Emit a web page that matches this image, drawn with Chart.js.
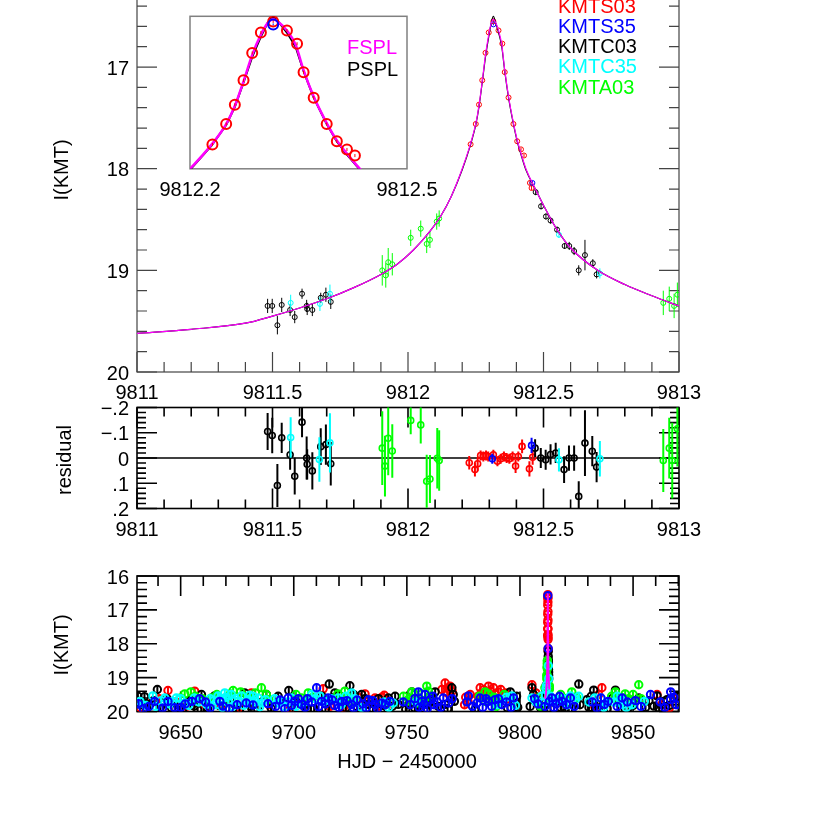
<!DOCTYPE html>
<html><head><meta charset="utf-8">
<script src="https://cdn.jsdelivr.net/npm/chart.js@4.4.0/dist/chart.umd.min.js"></script>
<style>
html,body{margin:0;padding:0;background:#fff;}
body{width:830px;height:814px;overflow:hidden;position:relative;}
canvas{position:absolute;left:0;}
</style></head><body>
<canvas id="cMain" width="830" height="470" style="top:-60px"></canvas>
<canvas id="cInset" width="830" height="210" style="top:0px"></canvas>
<canvas id="cRes" width="830" height="170" style="top:380px"></canvas>
<canvas id="cAll" width="830" height="254" style="top:560px"></canvas>
<script>
// ---------------- DATA ----------------
// model curves
const fsplT = [9811.00,9811.20,9811.40,9811.50,9811.60,9811.70,9811.80,9811.90,9811.96,9812.02,9812.08,9812.12,9812.16,9812.20,9812.23,9812.25,9812.262,9812.274,9812.286,9812.298,9812.307,9812.315,9812.323,9812.334,9812.346,9812.357,9812.371,9812.389,9812.403,9812.417,9812.435,9812.47,9812.50,9812.55,9812.60,9812.70,9812.80,9812.90,9813.00];
const fsplMag = [19.62,19.58,19.52,19.45,19.37,19.28,19.17,19.04,18.94,18.80,18.62,18.47,18.27,18.00,17.76,17.56,17.38,17.14,16.88,16.68,16.57,16.53,16.56,16.64,16.78,17.03,17.29,17.55,17.72,17.85,18.00,18.20,18.36,18.60,18.78,19.00,19.14,19.25,19.35];
const psplT = fsplT;
const psplMag = [19.62,19.58,19.52,19.45,19.37,19.28,19.17,19.04,18.94,18.80,18.62,18.47,18.27,18.01,17.77,17.57,17.39,17.15,16.90,16.70,16.57,16.50,16.56,16.66,16.80,17.04,17.30,17.56,17.73,17.86,18.01,18.20,18.36,18.60,18.78,19.00,19.14,19.25,19.35];

// light-curve points near the peak [HJD', mag, err]
const kmts03 = [[9812.231,17.76,0.015],[9812.250,17.56,0.015],[9812.262,17.37,0.015],[9812.274,17.13,0.015],[9812.286,16.86,0.015],[9812.298,16.66,0.015],[9812.315,16.55,0.015],[9812.334,16.64,0.015],[9812.348,16.77,0.015],[9812.357,17.05,0.015],[9812.371,17.30,0.015],[9812.389,17.56,0.015],[9812.403,17.73,0.015],[9812.417,17.81,0.015],[9812.428,17.87,0.015],[9812.450,18.14,0.02],[9812.456,18.19,0.02]];
const kmts35 = [[9812.315,16.58,0.01],[9812.459,18.14,0.02]];
const kmtc03 = [[9811.482,19.35,0.07],[9811.499,19.35,0.07],[9811.518,19.54,0.09],[9811.534,19.34,0.07],[9811.565,19.39,0.06],[9811.582,19.46,0.06],[9811.609,19.23,0.05],[9811.626,19.35,0.06],[9811.628,19.38,0.06],[9811.647,19.39,0.06],[9811.678,19.27,0.05],[9811.697,19.24,0.07],[9811.715,19.31,0.07],[9812.471,18.23,0.03],[9812.491,18.37,0.03],[9812.509,18.47,0.03],[9812.526,18.51,0.03],[9812.550,18.60,0.03],[9812.578,18.76,0.03],[9812.595,18.76,0.04],[9812.613,18.81,0.04],[9812.630,19.00,0.05],[9812.653,18.85,0.15],[9812.682,18.93,0.04],[9812.696,19.04,0.04]];
const kmtc35 = [[9811.567,19.32,0.08],[9811.675,19.33,0.07],[9811.712,19.23,0.09],[9812.557,18.65,0.03],[9812.708,19.03,0.05]];
const kmta03 = [[9811.905,19.00,0.15],[9811.918,19.05,0.12],[9811.927,18.92,0.14],[9811.942,18.94,0.11],[9812.010,18.68,0.08],[9812.047,18.59,0.08],[9812.069,18.74,0.09],[9812.081,18.70,0.08],[9812.106,18.52,0.08],[9812.115,18.49,0.08],[9812.942,19.32,0.12],[9812.964,19.28,0.12],[9812.982,19.35,0.12],[9812.994,19.24,0.12]];

// residuals [HJD', residual, err]
const resS03 = [[9812.226,0.019,0.027],[9812.247,0.046,0.027],[9812.257,0.023,0.027],[9812.268,-0.010,0.02],[9812.278,-0.006,0.02],[9812.288,-0.010,0.02],[9812.296,-0.006,0.02],[9812.315,-0.013,0.02],[9812.330,0.013,0.02],[9812.342,0.003,0.02],[9812.354,-0.006,0.02],[9812.364,0.000,0.02],[9812.374,0.003,0.02],[9812.386,-0.006,0.02],[9812.397,0.032,0.027],[9812.407,-0.006,0.02],[9812.421,-0.046,0.027],[9812.448,0.043,0.03],[9812.460,-0.003,0.03]];
const resS35 = [[9812.311,0.003,0.02],[9812.456,-0.050,0.03]];
const resC03 = [[9811.482,-0.105,0.073],[9811.499,-0.089,0.07],[9811.518,0.109,0.085],[9811.534,-0.080,0.06],[9811.565,-0.013,0.06],[9811.582,0.072,0.073],[9811.609,-0.142,0.06],[9811.626,0.000,0.085],[9811.628,0.025,0.06],[9811.647,0.051,0.074],[9811.678,-0.045,0.073],[9811.697,-0.053,0.08],[9811.715,0.023,0.086],[9812.469,-0.039,0.035],[9812.490,0.000,0.04],[9812.508,0.007,0.04],[9812.526,-0.014,0.04],[9812.545,-0.020,0.04],[9812.576,0.046,0.053],[9812.594,0.000,0.05],[9812.613,0.000,0.05],[9812.630,0.152,0.06],[9812.653,-0.059,0.13],[9812.680,-0.027,0.06],[9812.696,0.036,0.06]];
const resC35 = [[9811.567,-0.081,0.08],[9811.673,0.006,0.088],[9811.712,-0.060,0.117],[9812.557,0.007,0.046],[9812.708,0.003,0.07]];
const resA03 = [[9811.905,-0.039,0.146],[9811.915,0.032,0.12],[9811.927,-0.078,0.146],[9811.942,-0.028,0.106],[9812.010,-0.149,0.055],[9812.047,-0.131,0.074],[9812.069,0.092,0.105],[9812.081,0.083,0.095],[9812.108,0.001,0.12],[9812.115,0.010,0.12],[9812.942,0.010,0.125],[9812.964,-0.039,0.12],[9812.975,0.010,0.15],[9812.994,-0.116,0.15]];

// full-season points [HJD', mag]
const cloudErr = 0.1;
const allS03 = [[9632.0,19.88],[9637.0,19.75],[9640.5,19.62],[9644.4,19.38],[9648.0,19.72],[9652.5,19.85],[9656.2,19.40],[9660.0,19.78],[9668.0,19.85],[9676.0,19.88],[9681.3,19.45],[9689.0,19.80],[9698.5,19.92],[9713.0,19.33],[9716.0,19.85],[9722.0,19.88],[9728.5,19.58],[9730.0,19.72],[9731.5,19.48],[9733.0,19.70],[9735.9,19.60],[9737.5,19.85],[9738.9,19.58],[9740.0,19.52],[9741.0,19.66],[9742.5,19.75],[9757.0,19.80],[9765.5,19.35],[9766.9,19.16],[9767.8,19.45],[9768.0,19.32],[9769.1,19.25],[9769.5,19.60],[9770.0,19.40],[9775.5,19.80],[9776.0,19.58],[9777.0,19.70],[9778.0,19.50],[9781.5,19.55],[9782.4,19.30],[9783.0,19.45],[9784.0,19.36],[9785.0,19.52],[9786.1,19.25],[9787.0,19.40],[9788.0,19.65],[9788.3,19.30],[9789.0,19.50],[9790.5,19.42],[9791.5,19.35],[9792.0,19.55],[9793.5,19.45],[9794.5,19.62],[9805.3,19.21],[9807.0,19.45],[9833.0,19.85],[9834.8,19.50],[9836.2,19.30],[9860.6,19.50],[9862.5,19.80],[9866.0,19.90],[9868.0,19.62]];
const allS35 = [[9631.4,19.77],[9633.5,19.92],[9636.0,19.85],[9638.5,19.70],[9642.0,19.90],[9644.4,19.70],[9647.3,19.89],[9650.0,19.88],[9652.0,19.78],[9655.0,19.70],[9658.4,19.62],[9661.0,19.72],[9663.0,19.90],[9667.3,19.70],[9668.7,19.84],[9671.5,19.92],[9675.0,19.80],[9679.0,19.75],[9682.0,19.81],[9688.6,19.77],[9692.0,19.85],[9694.0,19.66],[9696.0,19.92],[9697.5,19.60],[9699.0,19.82],[9700.5,19.70],[9702.0,19.62],[9703.4,19.79],[9705.0,19.88],[9706.0,19.62],[9708.0,19.72],[9710.1,19.30],[9711.0,19.86],[9712.3,19.70],[9714.0,19.78],[9715.2,19.60],[9717.0,19.66],[9718.0,19.82],[9720.0,19.88],[9721.2,19.70],[9723.5,19.68],[9725.6,19.79],[9726.5,19.90],[9728.0,19.66],[9730.5,19.78],[9732.0,19.90],[9733.0,19.65],[9735.0,19.68],[9736.0,19.80],[9737.0,19.92],[9738.9,19.75],[9740.5,19.80],[9742.5,19.70],[9748.4,19.72],[9751.5,19.80],[9753.5,19.62],[9755.1,19.42],[9755.5,19.88],[9756.6,19.70],[9757.5,19.80],[9758.1,19.50],[9759.0,19.92],[9760.3,19.65],[9761.5,19.55],[9762.0,19.80],[9763.5,19.72],[9765.0,19.88],[9766.1,19.60],[9768.5,19.75],[9770.0,19.62],[9776.5,19.72],[9777.2,19.54],[9779.0,19.85],[9781.0,19.75],[9782.4,19.60],[9783.5,19.88],[9785.0,19.62],[9786.1,19.70],[9787.5,19.85],[9789.0,19.65],[9790.5,19.62],[9792.0,19.80],[9794.0,19.72],[9796.0,19.88],[9797.2,19.60],[9806.5,19.62],[9808.0,19.78],[9811.0,19.85],[9813.0,19.70],[9814.1,19.60],[9815.0,19.88],[9816.0,19.78],[9817.5,19.55],[9818.6,19.70],[9820.5,19.80],[9822.3,19.60],[9824.0,19.85],[9832.0,19.72],[9834.0,19.90],[9835.8,19.60],[9837.3,19.79],[9839.0,19.70],[9843.0,19.85],[9845.2,19.60],[9847.5,19.72],[9851.0,19.68],[9853.5,19.85],[9857.7,19.50],[9862.0,19.72],[9864.0,19.88],[9866.6,19.42],[9866.6,19.65],[9868.0,19.58],[9869.0,19.80]];
const allC03 = [[9631.1,19.55],[9632.5,19.80],[9634.0,19.56],[9635.0,19.92],[9636.3,19.79],[9638.0,19.68],[9639.7,19.35],[9641.0,19.88],[9642.9,19.75],[9644.0,19.62],[9646.0,19.90],[9648.5,19.80],[9651.0,19.92],[9653.2,19.70],[9655.0,19.62],[9656.0,19.84],[9657.5,19.95],[9659.2,19.50],[9660.5,19.68],[9662.0,19.90],[9665.0,19.54],[9667.0,19.82],[9670.0,19.92],[9672.0,19.68],[9673.9,19.79],[9676.0,19.95],[9678.3,19.45],[9681.0,19.85],[9684.0,19.92],[9686.0,19.72],[9687.9,19.50],[9690.0,19.90],[9693.1,19.55],[9695.0,19.70],[9697.8,19.38],[9699.5,19.92],[9701.9,19.75],[9704.0,19.82],[9706.0,19.92],[9709.0,19.92],[9712.5,19.55],[9714.0,19.92],[9715.7,19.19],[9717.0,19.60],[9718.2,19.45],[9720.0,19.52],[9721.9,19.70],[9723.0,19.90],[9724.8,19.24],[9726.5,19.50],[9728.0,19.85],[9730.0,19.50],[9731.5,19.62],[9733.0,19.79],[9735.0,19.92],[9737.5,19.62],[9739.5,19.82],[9741.8,19.60],[9743.5,19.85],[9744.8,19.55],[9746.2,19.79],[9749.5,19.94],[9750.8,19.79],[9752.2,19.42],[9753.5,19.90],[9756.0,19.95],[9759.5,19.80],[9761.0,19.62],[9762.5,19.42],[9764.0,19.85],[9766.9,19.79],[9768.0,19.92],[9769.9,19.30],[9770.5,19.50],[9771.0,19.70],[9780.0,19.95],[9794.5,19.90],[9795.7,19.42],[9797.9,19.70],[9798.5,19.55],[9799.0,19.88],[9804.5,19.85],[9805.3,19.30],[9806.0,19.50],[9807.5,19.70],[9808.5,19.62],[9809.0,19.88],[9810.5,19.90],[9813.5,19.92],[9818.0,19.88],[9820.0,19.90],[9823.0,19.92],[9826.0,19.19],[9826.5,19.80],[9829.6,19.65],[9830.5,19.88],[9831.5,19.55],[9832.6,19.37],[9833.5,19.92],[9834.1,19.79],[9836.5,19.82],[9838.5,19.92],[9841.0,19.60],[9842.2,19.37],[9843.7,19.75],[9845.0,19.92],[9848.0,19.88],[9850.0,19.82],[9852.5,19.60],[9855.5,19.88],[9857.0,19.68],[9859.2,19.84],[9860.6,19.54],[9861.5,19.90],[9863.5,19.70],[9865.0,19.65],[9866.0,19.82],[9868.8,19.79],[9869.5,19.55]];
const allC35 = [[9632.0,19.70],[9634.5,19.82],[9637.7,19.54],[9639.0,19.85],[9641.4,19.68],[9643.0,19.60],[9645.0,19.78],[9646.5,19.70],[9648.1,19.60],[9650.0,19.62],[9651.8,19.75],[9653.5,19.82],[9656.0,19.60],[9658.0,19.72],[9661.4,19.79],[9663.0,19.62],[9664.5,19.68],[9665.5,19.80],[9666.5,19.54],[9667.5,19.62],[9668.5,19.88],[9669.5,19.45],[9670.0,19.58],[9671.0,19.72],[9672.4,19.50],[9673.0,19.85],[9674.0,19.62],[9675.5,19.70],[9676.9,19.54],[9678.0,19.82],[9679.8,19.65],[9680.5,19.52],[9682.0,19.55],[9683.0,19.72],[9684.2,19.60],[9685.0,19.86],[9686.0,19.75],[9687.5,19.65],[9691.5,19.62],[9693.1,19.75],[9694.5,19.70],[9696.0,19.85],[9697.5,19.72],[9699.0,19.60],[9701.0,19.85],[9704.5,19.72],[9707.9,19.50],[9709.5,19.62],[9711.5,19.54],[9713.5,19.70],[9716.5,19.62],[9719.6,19.60],[9721.0,19.80],[9723.0,19.55],[9725.6,19.45],[9727.0,19.62],[9730.0,19.88],[9740.0,19.72],[9742.0,19.88],[9744.0,19.75],[9754.0,19.72],[9790.0,19.80],[9792.0,19.65],[9794.0,19.58],[9796.4,19.54],[9798.0,19.82],[9805.3,19.60],[9807.0,19.72],[9809.7,19.54],[9811.0,19.72],[9813.5,19.55],[9815.0,19.72],[9816.4,19.65],[9819.0,19.62],[9821.0,19.80],[9822.3,19.54],[9824.5,19.65],[9826.0,19.55],[9830.5,19.72],[9833.0,19.60],[9835.8,19.60],[9837.0,19.88],[9838.0,19.75],[9841.5,19.72],[9843.0,19.55],[9844.6,19.65],[9845.4,19.79],[9847.0,19.88],[9849.5,19.80],[9855.0,19.70]];
const allA03 = [[9650.0,19.60],[9651.8,19.48],[9654.5,19.42],[9656.5,19.55],[9659.5,19.62],[9663.6,19.60],[9666.0,19.50],[9670.0,19.60],[9672.0,19.48],[9673.2,19.38],[9675.4,19.70],[9676.5,19.42],[9678.0,19.55],[9680.0,19.62],[9683.0,19.45],[9685.7,19.30],[9687.9,19.50],[9689.0,19.65],[9701.0,19.50],[9703.4,19.60],[9705.0,19.72],[9706.4,19.45],[9708.5,19.58],[9719.5,19.48],[9722.6,19.40],[9724.0,19.58],[9726.0,19.72],[9748.5,19.55],[9749.9,19.70],[9751.0,19.62],[9752.2,19.42],[9753.5,19.50],[9754.5,19.75],[9755.1,19.60],[9756.5,19.48],[9757.5,19.68],[9758.8,19.25],[9759.5,19.40],[9760.0,19.55],[9782.0,19.55],[9784.6,19.42],[9784.6,19.70],[9786.0,19.48],[9787.6,19.60],[9788.5,19.58],[9789.5,19.85],[9790.0,19.75],[9791.5,19.65],[9793.0,19.50],[9808.0,19.60],[9809.0,19.84],[9811.0,19.30],[9812.5,19.60],[9818.0,19.50],[9820.0,19.62],[9822.9,19.42],[9825.0,19.58],[9840.5,19.55],[9842.2,19.42],[9843.5,19.72],[9845.2,19.60],[9846.5,19.48],[9848.0,19.62],[9850.0,19.50],[9851.0,19.70],[9852.5,19.21],[9853.5,19.62]];

// tick labels
const mainXVals = [9811, 9811.5, 9812, 9812.5, 9813];
const mainXText = ['9811', '9811.5', '9812', '9812.5', '9813'];
const mainYVals = [17, 18, 19, 20];
const mainYText = ['17', '18', '19', '20'];
const insetXVals = [9812.2, 9812.5];
const insetXText = ['9812.2', '9812.5'];
const resYVals = [-0.2, -0.1, 0, 0.1, 0.2];
const resYText = ['\u2212.2', '\u2212.1', '0', '.1', '.2'];
const allXVals = [9650, 9700, 9750, 9800, 9850];
const allXText = ['9650', '9700', '9750', '9800', '9850'];
const allYVals = [16, 17, 18, 19, 20];
const allYText = ['16', '17', '18', '19', '20'];
const seriesNames = ['KMTS03', 'KMTS35', 'KMTC03', 'KMTC35', 'KMTA03'];
const seriesColors = ['#ff0000', '#0000ff', '#000000', '#00ffff', '#00ff00'];

// ---------------- helpers ----------------
const FONT = '20px "Liberation Sans", Arial, Helvetica, sans-serif';
const pts = arr => arr.map(p => ({x: p[0], y: p[1]}));
const errs = (arr, e) => arr.map(p => (e !== undefined ? e : p[2]));
const curve = (t, m) => t.map((v, i) => ({x: v, y: m[i]}));

function ptSet(arr, color, r, lw, ew, e, order) {
  return {type: 'scatter', data: pts(arr), errs: errs(arr, e), errWidth: ew,
    borderColor: color, backgroundColor: 'rgba(0,0,0,0)', pointRadius: r,
    pointBorderWidth: lw, pointHoverRadius: r, showLine: false, clip: 0, order: order};
}
function lineSet(t, m, color, lw, order, smooth) {
  return {type: 'line', data: curve(t, m), borderColor: color, borderWidth: lw,
    pointRadius: 0, fill: false, showLine: true, clip: 0, order: order,
    cubicInterpolationMode: smooth ? 'monotone' : 'default', tension: 0};
}
function tickVals(min, max, step) {
  const out = [];
  const k0 = Math.ceil(min / step - 1e-6), k1 = Math.floor(max / step + 1e-6);
  for (let k = k0; k <= k1; k++) out.push(k * step);
  return out;
}
function isMajor(v, major) { const q = v / major; return Math.abs(q - Math.round(q)) < 1e-6; }

function panelPlugin(spec) {
  return {
    id: 'panel_' + spec.id,
    beforeDraw(chart) {
      if (!spec.fill) return;
      const a = chart.chartArea, c = chart.ctx;
      c.save(); c.fillStyle = '#fff'; c.fillRect(a.left, a.top, a.right - a.left, a.bottom - a.top); c.restore();
    },
    beforeDatasetsDraw(chart) {
      const a = chart.chartArea, c = chart.ctx, xs = chart.scales.x, ys = chart.scales.y;
      c.save();
      if (spec.zeroLine !== undefined) {
        const y = ys.getPixelForValue(spec.zeroLine);
        c.strokeStyle = '#000'; c.lineWidth = 1.5;
        c.beginPath(); c.moveTo(a.left, y); c.lineTo(a.right, y); c.stroke();
      }
      c.strokeStyle = spec.color; c.lineWidth = spec.lw;
      if (spec.ticks) {
        const T = spec.ticks;
        tickVals(xs.min, xs.max, T.xMinor).forEach(v => {
          const x = xs.getPixelForValue(v), L = isMajor(v, T.xMajor) ? T.majorLen : T.minorLen;
          c.beginPath(); c.moveTo(x, a.bottom); c.lineTo(x, a.bottom - L);
          c.moveTo(x, a.top); c.lineTo(x, a.top + L); c.stroke();
        });
        tickVals(Math.min(ys.min, ys.max), Math.max(ys.min, ys.max), T.yMinor).forEach(v => {
          const y = ys.getPixelForValue(v), L = isMajor(v, T.yMajor) ? T.majorLen : T.minorLen;
          c.beginPath(); c.moveTo(a.left, y); c.lineTo(a.left + L, y);
          c.moveTo(a.right, y); c.lineTo(a.right - L, y); c.stroke();
        });
      }
      c.strokeRect(a.left, a.top, a.right - a.left, a.bottom - a.top);
      c.restore();
    },
    afterDatasetDraw(chart, args) {
      const ds = chart.data.datasets[args.index];
      if (!ds.errs) return;
      const a = chart.chartArea, c = chart.ctx, xs = chart.scales.x, ys = chart.scales.y;
      c.save();
      c.beginPath(); c.rect(a.left, a.top, a.right - a.left, a.bottom - a.top); c.clip();
      c.strokeStyle = ds.borderColor; c.lineWidth = ds.errWidth;
      ds.data.forEach((p, i) => {
        const x = xs.getPixelForValue(p.x);
        c.beginPath();
        c.moveTo(x, ys.getPixelForValue(p.y - ds.errs[i]));
        c.lineTo(x, ys.getPixelForValue(p.y + ds.errs[i]));
        c.stroke();
      });
      c.restore();
    },
    afterDraw(chart) {
      const c = chart.ctx, xs = chart.scales.x, ys = chart.scales.y;
      const off = spec.top;
      c.save();
      c.fillStyle = '#000'; c.font = FONT;
      if (spec.xLabels) {
        c.textAlign = 'center'; c.textBaseline = 'middle';
        spec.xLabels.vals.forEach((v, i) => c.fillText(spec.xLabels.text[i], xs.getPixelForValue(v), spec.xLabels.y - off));
      }
      if (spec.yLabels) {
        c.textAlign = 'right'; c.textBaseline = 'middle';
        spec.yLabels.vals.forEach((v, i) => c.fillText(spec.yLabels.text[i], spec.yLabels.right, ys.getPixelForValue(v) + 2));
      }
      (spec.texts || []).forEach(t => {
        c.save();
        c.fillStyle = t.color || '#000';
        c.textAlign = t.align || 'center'; c.textBaseline = 'middle';
        c.translate(t.x, t.y - off);
        if (t.rot) c.rotate(-Math.PI / 2);
        c.fillText(t.t, 0, 0);
        c.restore();
      });
      c.restore();
    }
  };
}
function baseOptions(pad, xmin, xmax, ymin, ymax) {
  return {
    responsive: false, animation: false, events: [],
    layout: {padding: pad},
    scales: {
      x: {type: 'linear', min: xmin, max: xmax, display: false},
      y: {type: 'linear', min: ymin, max: ymax, reverse: true, display: false}
    },
    plugins: {legend: {display: false}, tooltip: {enabled: false}}
  };
}

// ---------------- main panel ----------------
const mainSpec = {
  id: 'main', top: -60, color: '#444', lw: 1.2,
  ticks: {xMajor: 0.5, xMinor: 0.1, yMajor: 1, yMinor: 0.2, majorLen: 20, minorLen: 10},
  xLabels: {vals: mainXVals, text: mainXText, y: 393},
  yLabels: {vals: mainYVals, text: mainYText, right: 129},
  texts: [{t: 'I(KMT)', x: 62, y: 170, rot: true}].concat(
    seriesNames.map((n, i) => ({t: n, x: 558, y: 7 + i * 20.3, align: 'left', color: seriesColors[i]})))
};
new Chart(document.getElementById('cMain'), {
  type: 'scatter',
  data: {datasets: [
    lineSet(fsplT, fsplMag, '#ff00ff', 1.2, 0, true),
    lineSet(psplT, psplMag, '#000000', 1.2, 1, true),
    ptSet(kmts35, seriesColors[1], 2.5, 1, 1, undefined, 2),
    ptSet(kmts03, seriesColors[0], 2.5, 1, 1, undefined, 3),
    ptSet(kmtc35, seriesColors[3], 2.5, 1, 1, undefined, 4),
    ptSet(kmtc03, seriesColors[2], 2.5, 1, 1, undefined, 5),
    ptSet(kmta03, seriesColors[4], 2.5, 1, 1, undefined, 6)
  ]},
  options: baseOptions({left: 137, right: 151, top: 25.4, bottom: 38}, 9811, 9813, 16.0, 20),
  plugins: [panelPlugin(mainSpec)]
});

// ---------------- inset ----------------
const insetSpec = {
  id: 'inset', top: 0, color: '#808080', lw: 1.5, fill: true,
  xLabels: {vals: insetXVals, text: insetXText, y: 190},
  texts: [{t: 'FSPL', x: 347, y: 48, align: 'left', color: '#ff00ff'},
          {t: 'PSPL', x: 347, y: 70, align: 'left', color: '#000000'}]
};
new Chart(document.getElementById('cInset'), {
  type: 'scatter',
  data: {datasets: [
    ptSet(kmts35, seriesColors[1], 5, 2, 1, undefined, 0),
    ptSet(kmts03, seriesColors[0], 5, 2, 1, undefined, 1),
    lineSet(fsplT, fsplMag, '#ff00ff', 2.5, 2, true),
    lineSet(psplT, psplMag, '#000000', 2, 3, false)
  ]},
  options: baseOptions({left: 190, right: 423, top: 16.3, bottom: 41.2}, 9812.2, 9812.5, 16.5, 18.0),
  plugins: [panelPlugin(insetSpec)]
});

// ---------------- residual panel ----------------
const resSpec = {
  id: 'res', top: 380, color: '#000', lw: 1.6, zeroLine: 0,
  ticks: {xMajor: 0.5, xMinor: 0.1, yMajor: 0.1, yMinor: 0.02, majorLen: 20, minorLen: 9},
  xLabels: {vals: mainXVals, text: mainXText, y: 530},
  yLabels: {vals: resYVals, text: resYText, right: 129},
  texts: [{t: 'residual', x: 65, y: 460, rot: true}]
};
new Chart(document.getElementById('cRes'), {
  type: 'scatter',
  data: {datasets: [
    ptSet(resS35, seriesColors[1], 3, 1.6, 2, undefined, 0),
    ptSet(resC35, seriesColors[3], 3, 1.6, 2, undefined, 1),
    ptSet(resC03, seriesColors[2], 3, 1.6, 2, undefined, 2),
    ptSet(resS03, seriesColors[0], 3, 1.6, 2, undefined, 3),
    ptSet(resA03, seriesColors[4], 3, 1.6, 2, undefined, 4)
  ]},
  options: baseOptions({left: 137, right: 151, top: 27.5, bottom: 41.5}, 9811, 9813, -0.2, 0.2),
  plugins: [panelPlugin(resSpec)]
});

// ---------------- full season panel ----------------
const allSpec = {
  id: 'all', top: 560, color: '#000', lw: 1.6,
  ticks: {xMajor: 50, xMinor: 10, yMajor: 1, yMinor: 0.2, majorLen: 20, minorLen: 10},
  xLabels: {vals: allXVals, text: allXText, y: 733},
  yLabels: {vals: allYVals, text: allYText, right: 129},
  texts: [{t: 'I(KMT)', x: 62, y: 645, rot: true},
          {t: 'HJD \u2212 2450000', x: 407, y: 762}]
};
const peakOnly = arr => arr.map(p => [p[0], p[1]]);
new Chart(document.getElementById('cAll'), {
  type: 'scatter',
  data: {datasets: [
    lineSet(fsplT, fsplMag, '#ff00ff', 2, 0, true),
    ptSet(allS35.concat(peakOnly(kmts35)), seriesColors[1], 3.7, 2, 2, cloudErr, 1),
    ptSet(allC35.concat(peakOnly(kmtc35)), seriesColors[3], 3.7, 2, 2, cloudErr, 2),
    ptSet(allA03.concat(peakOnly(kmta03)), seriesColors[4], 3.7, 2, 2, cloudErr, 3),
    ptSet(allC03.concat(peakOnly(kmtc03)), seriesColors[2], 3.7, 2, 2, cloudErr, 4),
    ptSet(allS03.concat(peakOnly(kmts03)), seriesColors[0], 3.7, 2, 2, cloudErr, 5)
  ]},
  options: baseOptions({left: 137, right: 151, top: 16, bottom: 102.5}, 9630.7, 9870.3, 16, 20),
  plugins: [panelPlugin(allSpec)]
});
</script>
</body></html>
